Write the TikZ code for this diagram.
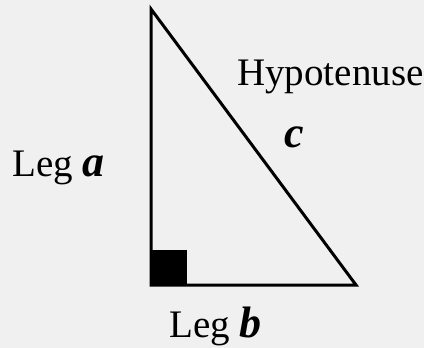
\documentclass[tikz,border=0pt]{standalone}
\usepackage{fontspec}
\setmainfont{Liberation Serif}
\definecolor{bg}{RGB}{240,240,240}
\newcommand{\varlet}[1]{{\fontsize{44}{46}\selectfont\bfseries\itshape #1}}
\begin{document}
\begin{tikzpicture}[x=1pt,y=-1pt,
  lbl/.style={anchor=base west,inner sep=0pt,font=\fontsize{39}{41}\selectfont},
  side/.style={line width=3pt,line join=miter}]
\fill[bg] (0,0) rectangle (424,348);
\useasboundingbox (0,0) rectangle (424,348);
\coordinate (A) at (151,9);
\coordinate (C) at (151,285);
\coordinate (B) at (356,285);
\fill (C) rectangle (187,250);
\draw[side] (A) -- (C) -- (B) -- cycle;
\node[lbl] (hyp) at (237,85) {Hypotenuse};
\node[lbl] (c) at (284,147) {\varlet{c}};
\node[lbl] (la) at (12,176) {Leg \varlet{a}};
\node[lbl] (lb) at (169,337) {Leg \varlet{b}};
\end{tikzpicture}
\end{document}
